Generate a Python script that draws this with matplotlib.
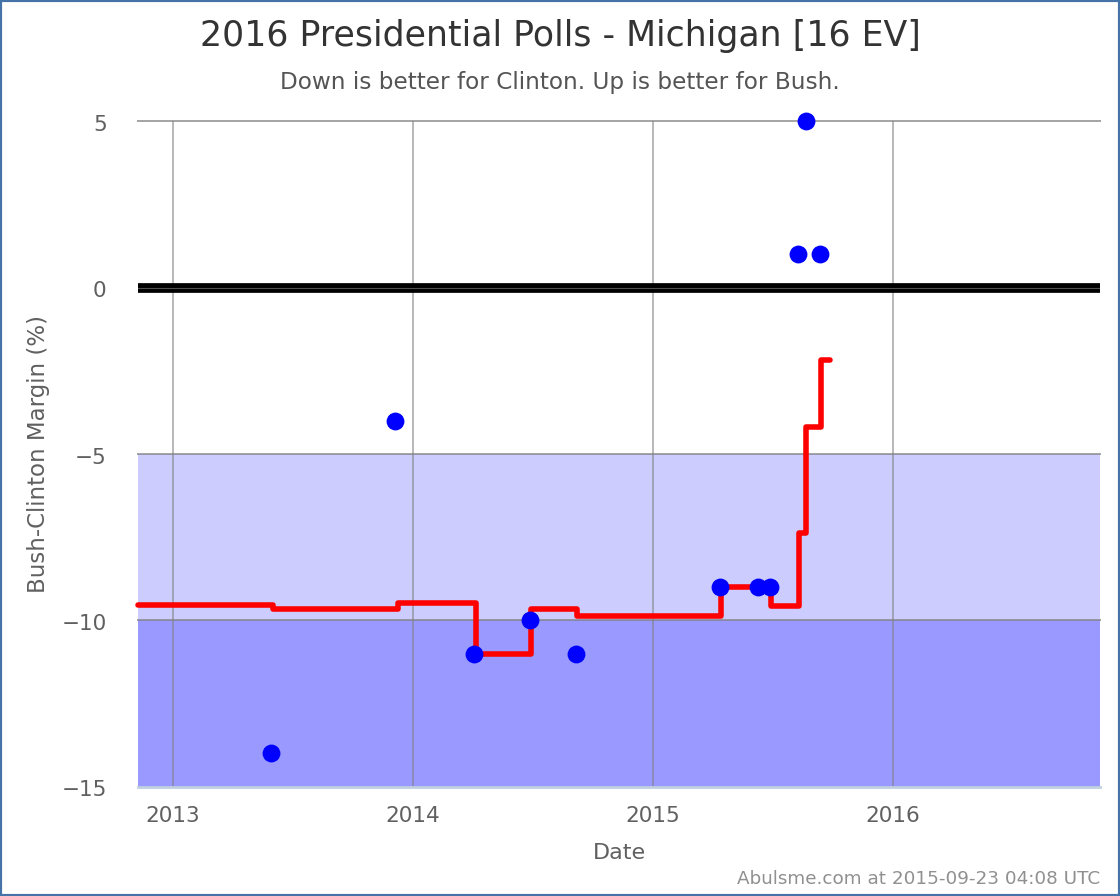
import matplotlib
matplotlib.use('Agg')
import matplotlib.pyplot as plt
from matplotlib.patches import Rectangle
from matplotlib.transforms import ScaledTranslation

# poll dates as fractional years, margins in percent
pollDates = [2013.408, 2013.925, 2014.254, 2014.4875, 2014.679, 2015.279,
             2015.4375, 2015.4875, 2015.604, 2015.6375, 2015.696]
pollMargins = [-14, -4, -11, -10, -11, -9, -9, -9, 1, 5, 1]

# running average, drawn as steps
avgDates = [2012.854, 2013.417, 2013.938, 2014.262, 2014.492, 2014.683,
            2015.283, 2015.49, 2015.608, 2015.638, 2015.7, 2015.736]
avgMargins = [-9.53, -9.67, -9.47, -11, -9.67, -9.88,
              -9, -9.56, -7.37, -4.18, -2.18, -2.18]

yearTicks = [2013, 2014, 2015, 2016]
marginTicks = [5, 0, -5, -10, -15]
marginLabels = ['5', '0', '\u22125', '\u221210', '\u221215']

W, H = 1120, 896
TEXT = '#333333'
LABEL = '#606060'

fig = plt.figure(figsize=(W / 100, H / 100), dpi=100)
fig.patch.set_facecolor('white')
fig.add_artist(Rectangle((0, 0), 1, 1, transform=fig.transFigure, fill=False,
                         edgecolor='#4572a7', linewidth=3))

ax = fig.add_axes([138 / W, 1 - 786.5 / H, (1100 - 138) / W, 665 / H])
ax.set_xlim(2012.854, 2016.8625)
ax.set_ylim(-15, 5)

# bands
ax.axhspan(-10, -5, color='#ccccff', linewidth=0, zorder=1)
ax.axhspan(-15, -10, color='#9999ff', linewidth=0, zorder=1)

# grid sits on top of the bands
for yr in yearTicks:
    ax.axvline(yr, color='#808080', alpha=0.55, linewidth=1.44, zorder=2)
for m in marginTicks:
    if m != 0 and m != -15:
        ax.axhline(m, color='#808080', alpha=0.7, linewidth=1.44, zorder=2, clip_on=False)
ax.axhline(-15, color='#c0d0e0', linewidth=2, zorder=2, clip_on=False)
ax.axhline(0, color='black', linewidth=7, zorder=3)
ax.axhline(0, color='#505050', linewidth=0.8, zorder=3)

ax.plot(avgDates, avgMargins, color='#ff0000', linewidth=4, drawstyle='steps-post',
        solid_joinstyle='round', solid_capstyle='round', zorder=4, clip_on=False)
ax.scatter(pollDates, pollMargins, s=165, color='#0000ff', linewidths=0, zorder=5, clip_on=False)

for spine in ax.spines.values():
    spine.set_visible(False)
ax.set_xticks(yearTicks)
ax.set_xticklabels([str(y) for y in yearTicks])
ax.set_yticks(marginTicks)
ax.set_yticklabels(marginLabels)
ax.tick_params(axis='x', length=0, pad=14, labelsize=15.5, labelcolor=LABEL)
ax.tick_params(axis='y', length=0, pad=22.5, labelsize=15.5, labelcolor=LABEL)
# y labels sit a little below their lines
for lab in ax.get_yticklabels():
    lab.set_transform(lab.get_transform() + ScaledTranslation(0, -1.5 / 100, fig.dpi_scale_trans))

fig.text(560 / W, 1 - 36 / H, '2016 Presidential Polls - Michigan [16 EV]', ha='center',
         va='center', fontsize=25, color=TEXT)
fig.text(560 / W, 1 - 82 / H, 'Down is better for Clinton. Up is better for Bush.', ha='center',
         va='center', fontsize=16.7, color='#555555')
fig.text(619 / W, 1 - 853 / H, 'Date', ha='center', va='center', fontsize=16, color=LABEL)
fig.text(39 / W, 1 - 454 / H, 'Bush-Clinton Margin (%)', ha='center', va='center',
         rotation=90, fontsize=16.5, color=LABEL)
fig.text(1100 / W, 1 - 879 / H, 'Abulsme.com at 2015-09-23 04:08 UTC', ha='right', va='center',
         fontsize=13.2, color='#909090')

fig.savefig('out.png', dpi=100)
